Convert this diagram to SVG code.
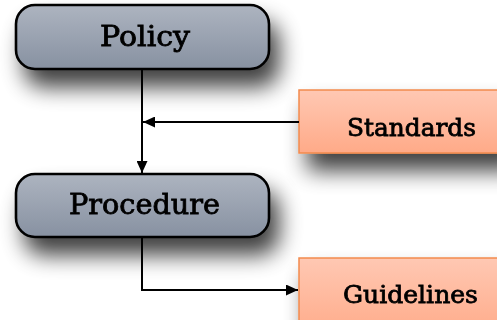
<svg xmlns="http://www.w3.org/2000/svg" width="497" height="320" viewBox="0 0 497 320">
<defs>
<linearGradient id="gGray" x1="0" y1="0" x2="0" y2="1">
<stop offset="0" stop-color="#adb4c0"/>
<stop offset="1" stop-color="#8791a1"/>
</linearGradient>
<linearGradient id="gOrange" x1="0" y1="0" x2="0" y2="1">
<stop offset="0" stop-color="#ffc8b3"/>
<stop offset="1" stop-color="#ffaa88"/>
</linearGradient>
<filter id="shadow" x="-30%" y="-50%" width="170%" height="230%">
<feGaussianBlur in="SourceAlpha" stdDeviation="11"/>
<feOffset dx="9" dy="17" result="b"/>
<feComponentTransfer><feFuncA type="linear" slope="0.75"/></feComponentTransfer>
<feMerge><feMergeNode/><feMergeNode in="SourceGraphic"/></feMerge>
</filter>
<marker id="arrow" viewBox="0 0 12 11" refX="12" refY="5.5" markerWidth="12" markerHeight="11" markerUnits="userSpaceOnUse" orient="auto">
<path d="M0,0 L12,5.5 L0,11 z" fill="#000"/>
</marker>
<style>
.main rect{fill:url(#gGray);stroke:#000;stroke-width:2.6}
.side rect{fill:url(#gOrange);stroke:#f28a4e;stroke-width:1.5}
text{font-family:"DejaVu Serif","Liberation Serif",serif;fill:#000;stroke:#000;stroke-width:0.8;text-anchor:middle}
.main text{font-size:27px}
.side text{font-size:25px}
.conn path{fill:none;stroke:#000;stroke-width:2;marker-end:url(#arrow)}
</style>
</defs>
<rect width="497" height="320" fill="#fff"/>
<g id="policy" class="main" filter="url(#shadow)">
<rect x="16" y="5" width="253" height="64" rx="19"/>
<text x="145" y="46" textLength="90" lengthAdjust="spacingAndGlyphs">Policy</text>
</g>
<g id="standards" class="side" filter="url(#shadow)">
<rect x="299" y="90" width="210" height="63"/>
<text x="411.5" y="136" textLength="129" lengthAdjust="spacingAndGlyphs">Standards</text>
</g>
<g id="procedure" class="main" filter="url(#shadow)">
<rect x="16" y="174" width="253" height="63" rx="19"/>
<text x="144.5" y="214" textLength="151" lengthAdjust="spacingAndGlyphs">Procedure</text>
</g>
<g id="guidelines" class="side" filter="url(#shadow)">
<rect x="299" y="258" width="210" height="80"/>
<text x="410.5" y="303" textLength="135" lengthAdjust="spacingAndGlyphs">Guidelines</text>
</g>
<g class="conn">
<path d="M142,69 V173"/>
<path d="M299,122 H143"/>
<path d="M142,237 V290 H298"/>
</g>
</svg>
